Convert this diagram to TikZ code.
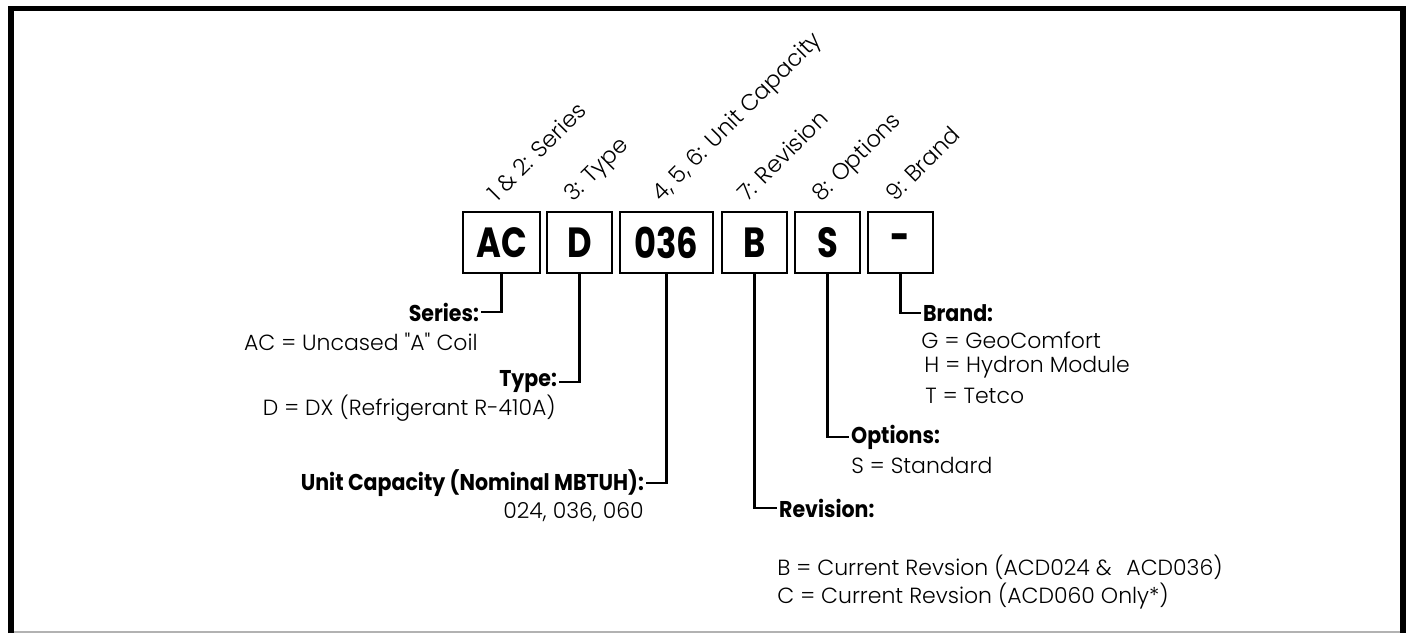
\documentclass[tikz,border=0pt]{standalone}
\usepackage{fontspec}
\setmainfont{Poppins}
\newfontfamily\lightfont{Poppins Light}
\newfontfamily\condfont[FakeStretch=0.8]{Poppins}
\newfontfamily\namefont[FakeStretch=0.9]{Poppins}

\tikzset{
  codebox/.style={draw, line width=1.2pt, inner sep=0pt, minimum width=1.3cm,
    minimum height=1.22cm, font=\condfont\bfseries\fontsize{24}{24}\selectfont},
  poslabel/.style={rotate=45, anchor=base west, inner sep=0pt,
    font=\lightfont\fontsize{13}{13}\selectfont},
  fieldname/.style={inner sep=1pt, font=\namefont\bfseries\fontsize{13}{13}\selectfont},
  fieldval/.style={inner sep=0pt, font=\lightfont\fontsize{12.5}{12.5}\selectfont},
  leader/.style={line width=1.2pt}
}

\begin{document}
\begin{tikzpicture}[x=0.02cm,y=-0.02cm]
  \useasboundingbox (0,0) rectangle (1406,633);
  % frame
  \draw[gray!60, line width=0.6pt] (11,632) -- (1403,632);
  \draw[line width=2.9pt] (11,633) -- (11,8.5) -- (1403,8.5) -- (1403,633);

  % model number boxes
  \node[codebox, minimum width=1.54cm] (ac) at (501.5,242.5) {AC};
  \node[codebox] (type) at (579.5,242.5) {D};
  \node[codebox, minimum width=1.86cm] (cap) at (666.5,242.5) {036};
  \node[codebox] (rev) at (754.5,242.5) {B};
  \node[codebox] (opt) at (827.5,242.5) {S};
  \node[codebox] (brand) at (900.5,242.5) {-};

  % digit positions
  \node[poslabel] (acpos) at (497,203) {1 \& 2: Series};
  \node[poslabel] (typepos) at (573,203) {3: Type};
  \node[poslabel] (cappos) at (661,203) {4, 5, 6: Unit Capacity};
  \node[poslabel] (revpos) at (747,203) {7: Revision};
  \node[poslabel] (optpos) at (821,203) {8: Options};
  \node[poslabel] (brandpos) at (895,203) {9: Brand};

  % left side fields
  \node[fieldname, anchor=east] (acname) at (481,312) {Series:};
  \node[fieldval, anchor=east] (acval) at (478,342) {AC = Uncased "A" Coil};
  \node[fieldname, anchor=east] (typename) at (559,382) {Type:};
  \node[fieldval, anchor=east] (typeval) at (556,408) {D = DX (Refrigerant R-410A)};
  \node[fieldname, anchor=east] (capname) at (646,483) {Unit Capacity (Nominal MBTUH):};
  \node[fieldval, anchor=east] (capval) at (644,512) {024, 036, 060};

  % right side fields
  \node[fieldname, anchor=west] (brandname) at (921,313) {Brand:};
  \node[fieldval, anchor=west] (brandg) at (921,340) {G = GeoComfort};
  \node[fieldval, anchor=west] (brandh) at (924,367) {H = Hydron Module};
  \node[fieldval, anchor=west] (brandt) at (925,396) {T = Tetco};
  \node[fieldname, anchor=west] (optname) at (849,437) {Options:};
  \node[fieldval, anchor=west] (optval) at (851,465) {S = Standard};
  \node[fieldname, anchor=west] (revname) at (777,508) {Revision:};
  \node[fieldval, anchor=west] (revb) at (777,567) {B = Current Revsion (ACD024 \&\hspace{0.4em} ACD036)};
  \node[fieldval, anchor=west] (revc) at (777,596) {C = Current Revsion (ACD060 Only*)};

  % leaders
  \draw[leader] (ac.south) |- (acname.east);
  \draw[leader] (type.south) |- (typename.east);
  \draw[leader] (cap.south) |- (capname.east);
  \draw[leader] (rev.south) |- (revname.west);
  \draw[leader] (opt.south) |- (optname.west);
  \draw[leader] (brand.south) |- (brandname.west);
\end{tikzpicture}
\end{document}
